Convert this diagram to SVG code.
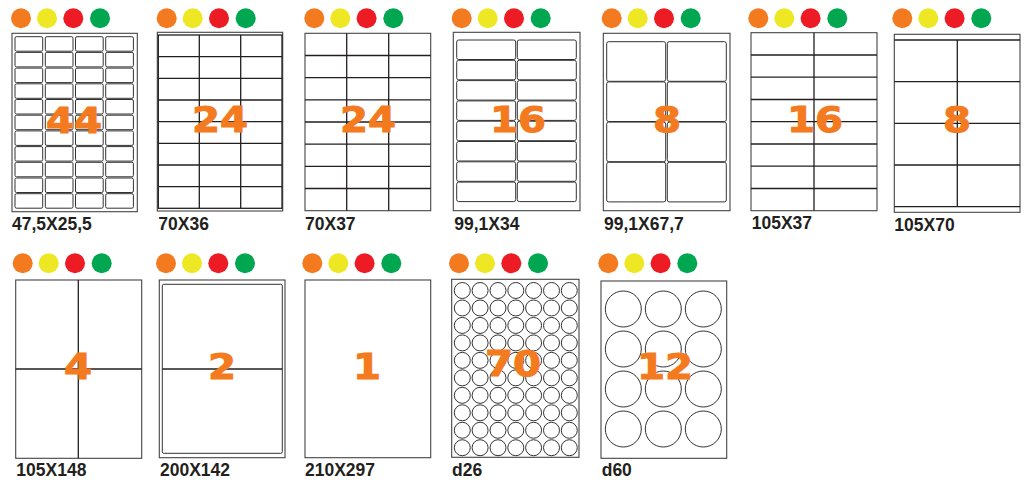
<svg xmlns="http://www.w3.org/2000/svg" width="1029" height="480" viewBox="0 0 1029 480">
<style>
.o{fill:#f47a20}.y{fill:#eee824}.r{fill:#ed1c24}.g{fill:#00a650}
.sh{fill:#fff;stroke:#444;stroke-width:1.1}
.ln{stroke:#231f20;stroke-width:1.3;fill:none}
.lb{fill:#fff;stroke:#333;stroke-width:1}
.ci{fill:#fff;stroke:#333;stroke-width:1}
.num{font-family:"DejaVu Sans",sans-serif;font-weight:bold;font-size:36px;fill:#f47a20;stroke:#f47a20;stroke-width:1;text-anchor:middle}
.cap{font-family:"Liberation Sans",Arial,sans-serif;font-weight:bold;font-size:17.5px;fill:#231f20}
</style>
<defs>
<g id="dots"><circle class="o" cx="0" cy="0" r="10"/><circle class="y" cx="26" cy="0" r="10"/><circle class="r" cx="52.3" cy="0" r="10"/><circle class="g" cx="79" cy="0" r="10"/></g>
<rect id="c44" width="27.7" height="14.5" rx="1.5" class="lb"/>
<rect id="c16" width="59" height="19.5" rx="2" class="lb"/>
<rect id="c8" width="59" height="39.6" rx="2" class="lb"/>
<circle id="k26" r="8" class="ci"/>
<circle id="k60" r="18" class="ci"/>
</defs>

<g id="p1">
<use href="#dots" x="21" y="18.3"/>
<rect class="sh" x="12" y="33.3" width="125.3" height="178.4"/>
<g>
<use href="#c44" x="15" y="36.7"/><use href="#c44" x="45.3" y="36.7"/><use href="#c44" x="75.5" y="36.7"/><use href="#c44" x="105.7" y="36.7"/>
<use href="#c44" x="15" y="52.4"/><use href="#c44" x="45.3" y="52.4"/><use href="#c44" x="75.5" y="52.4"/><use href="#c44" x="105.7" y="52.4"/>
<use href="#c44" x="15" y="68.1"/><use href="#c44" x="45.3" y="68.1"/><use href="#c44" x="75.5" y="68.1"/><use href="#c44" x="105.7" y="68.1"/>
<use href="#c44" x="15" y="83.8"/><use href="#c44" x="45.3" y="83.8"/><use href="#c44" x="75.5" y="83.8"/><use href="#c44" x="105.7" y="83.8"/>
<use href="#c44" x="15" y="99.5"/><use href="#c44" x="45.3" y="99.5"/><use href="#c44" x="75.5" y="99.5"/><use href="#c44" x="105.7" y="99.5"/>
<use href="#c44" x="15" y="115.2"/><use href="#c44" x="45.3" y="115.2"/><use href="#c44" x="75.5" y="115.2"/><use href="#c44" x="105.7" y="115.2"/>
<use href="#c44" x="15" y="130.9"/><use href="#c44" x="45.3" y="130.9"/><use href="#c44" x="75.5" y="130.9"/><use href="#c44" x="105.7" y="130.9"/>
<use href="#c44" x="15" y="146.6"/><use href="#c44" x="45.3" y="146.6"/><use href="#c44" x="75.5" y="146.6"/><use href="#c44" x="105.7" y="146.6"/>
<use href="#c44" x="15" y="162.3"/><use href="#c44" x="45.3" y="162.3"/><use href="#c44" x="75.5" y="162.3"/><use href="#c44" x="105.7" y="162.3"/>
<use href="#c44" x="15" y="178"/><use href="#c44" x="45.3" y="178"/><use href="#c44" x="75.5" y="178"/><use href="#c44" x="105.7" y="178"/>
<use href="#c44" x="15" y="193.7"/><use href="#c44" x="45.3" y="193.7"/><use href="#c44" x="75.5" y="193.7"/><use href="#c44" x="105.7" y="193.7"/>
</g>
<text class="num" x="0" y="133" transform="translate(74 0) scale(1.12 1)">44</text>
<text class="cap" x="12" y="230">47,5X25,5</text>
</g>

<g id="p2">
<use href="#dots" x="166.7" y="18.3"/>
<rect class="sh" x="157.3" y="32.3" width="125.4" height="178.7"/>
<rect class="ln" x="158.3" y="35" width="123.7" height="173.3"/>
<path class="ln" d="M199.3 35V208.3M240.7 35V208.3M158.3 56.7H282M158.3 78.3H282M158.3 100H282M158.3 121.7H282M158.3 143.3H282M158.3 165H282M158.3 186.7H282"/>
<text class="num" x="0" y="132" transform="translate(220 0) scale(1.12 1)">24</text>
<text class="cap" x="158.3" y="230">70X36</text>
</g>

<g id="p3">
<use href="#dots" x="314.3" y="18.3"/>
<rect class="sh" x="305" y="33.3" width="125.7" height="177.4"/>
<path class="ln" d="M346.7 33.3V210.7M388.7 33.3V210.7M305 55.5H430.7M305 77.7H430.7M305 99.8H430.7M305 122H430.7M305 144.2H430.7M305 166.3H430.7M305 188.5H430.7"/>
<text class="num" x="0" y="132" transform="translate(368 0) scale(1.12 1)">24</text>
<text class="cap" x="305" y="230">70X37</text>
</g>

<g id="p4">
<use href="#dots" x="461.7" y="18.3"/>
<rect class="sh" x="453.3" y="32.3" width="126.7" height="178.4"/>
<use href="#c16" x="456.7" y="40"/><use href="#c16" x="517.3" y="40"/>
<use href="#c16" x="456.7" y="60.3"/><use href="#c16" x="517.3" y="60.3"/>
<use href="#c16" x="456.7" y="80.6"/><use href="#c16" x="517.3" y="80.6"/>
<use href="#c16" x="456.7" y="100.9"/><use href="#c16" x="517.3" y="100.9"/>
<use href="#c16" x="456.7" y="121.2"/><use href="#c16" x="517.3" y="121.2"/>
<use href="#c16" x="456.7" y="141.5"/><use href="#c16" x="517.3" y="141.5"/>
<use href="#c16" x="456.7" y="161.8"/><use href="#c16" x="517.3" y="161.8"/>
<use href="#c16" x="456.7" y="182.1"/><use href="#c16" x="517.3" y="182.1"/>
<text class="num" x="0" y="132" transform="translate(518 0) scale(1.12 1)">16</text>
<text class="cap" x="454.3" y="230">99,1X34</text>
</g>

<g id="p5">
<use href="#dots" x="611.7" y="18.3"/>
<rect class="sh" x="603.3" y="33.3" width="126.7" height="177.4"/>
<use href="#c8" x="606.7" y="41.7"/><use href="#c8" x="667.3" y="41.7"/>
<use href="#c8" x="606.7" y="81.9"/><use href="#c8" x="667.3" y="81.9"/>
<use href="#c8" x="606.7" y="122.1"/><use href="#c8" x="667.3" y="122.1"/>
<use href="#c8" x="606.7" y="162.3"/><use href="#c8" x="667.3" y="162.3"/>
<text class="num" x="0" y="132" transform="translate(667 0) scale(1.12 1)">8</text>
<text class="cap" x="604" y="230">99,1X67,7</text>
</g>

<g id="p6">
<use href="#dots" x="758.3" y="18.3"/>
<rect class="sh" x="751" y="32.7" width="126" height="178"/>
<path class="ln" d="M814 32.7V210.7M751 55H877M751 77.2H877M751 99.5H877M751 121.7H877M751 144H877M751 166.2H877M751 188.5H877"/>
<text class="num" x="0" y="132" transform="translate(815 0) scale(1.12 1)">16</text>
<text class="cap" x="751.7" y="229.3">105X37</text>
</g>

<g id="p7">
<use href="#dots" x="902.3" y="18.3"/>
<rect class="sh" x="894.3" y="34.3" width="125.7" height="178"/>
<path class="ln" d="M894.3 40H1020M894.3 206.7H1020M957.3 40V206.7M894.3 81.7H1020M894.3 123.3H1020M894.3 165H1020"/>
<text class="num" x="0" y="132.5" transform="translate(957 0) scale(1.12 1)">8</text>
<text class="cap" x="894.3" y="231">105X70</text>
</g>

<g id="p8">
<use href="#dots" x="22.7" y="263.3"/>
<rect class="sh" x="15.7" y="280" width="126" height="178.3"/>
<path class="ln" d="M78.3 280V458.3M15.7 369H141.7"/>
<text class="num" x="0" y="379" transform="translate(78 0) scale(1.12 1)">4</text>
<text class="cap" x="16.3" y="476">105X148</text>
</g>

<g id="p9">
<use href="#dots" x="166" y="263.3"/>
<rect class="sh" x="159.3" y="280" width="125.7" height="177.7"/>
<rect class="lb" x="162.3" y="284.3" width="120" height="169" rx="1.5"/>
<path class="ln" d="M162.3 369H282.3"/>
<text class="num" x="0" y="379" transform="translate(222 0) scale(1.12 1)">2</text>
<text class="cap" x="160" y="476">200X142</text>
</g>

<g id="p10">
<use href="#dots" x="312.3" y="263.3"/>
<rect class="sh" x="305" y="280" width="125.7" height="177.7"/>
<text class="num" x="0" y="379" transform="translate(367 0) scale(1.12 1)">1</text>
<text class="cap" x="305" y="476">210X297</text>
</g>

<g id="p11">
<use href="#dots" x="459" y="263.3"/>
<rect class="sh" x="451.7" y="279.3" width="127.3" height="178"/>
<g id="row26">
<use href="#k26" x="462.3" y="290.5"/><use href="#k26" x="480.1" y="290.5"/><use href="#k26" x="498" y="290.5"/><use href="#k26" x="515.8" y="290.5"/><use href="#k26" x="533.6" y="290.5"/><use href="#k26" x="551.5" y="290.5"/><use href="#k26" x="569.3" y="290.5"/>
</g>
<use href="#row26" y="17.47"/><use href="#row26" y="34.94"/><use href="#row26" y="52.41"/><use href="#row26" y="69.88"/><use href="#row26" y="87.35"/><use href="#row26" y="104.82"/><use href="#row26" y="122.29"/><use href="#row26" y="139.76"/><use href="#row26" y="157.23"/>
<text class="num" x="0" y="376" transform="translate(513 0) scale(1.12 1)">70</text>
<text class="cap" x="452" y="476">d26</text>
</g>

<g id="p12">
<use href="#dots" x="608.3" y="263.3"/>
<rect class="sh" x="601" y="281" width="125.7" height="177.3"/>
<use href="#k60" x="623.3" y="309"/><use href="#k60" x="663.3" y="309"/><use href="#k60" x="703.3" y="309"/>
<use href="#k60" x="623.3" y="349"/><use href="#k60" x="663.3" y="349"/><use href="#k60" x="703.3" y="349"/>
<use href="#k60" x="623.3" y="389"/><use href="#k60" x="663.3" y="389"/><use href="#k60" x="703.3" y="389"/>
<use href="#k60" x="623.3" y="429"/><use href="#k60" x="663.3" y="429"/><use href="#k60" x="703.3" y="429"/>
<text class="num" x="0" y="379" transform="translate(665 0) scale(1.12 1)">12</text>
<text class="cap" x="601.7" y="476">d60</text>
</g>

<g id="connectors"/>
</svg>
